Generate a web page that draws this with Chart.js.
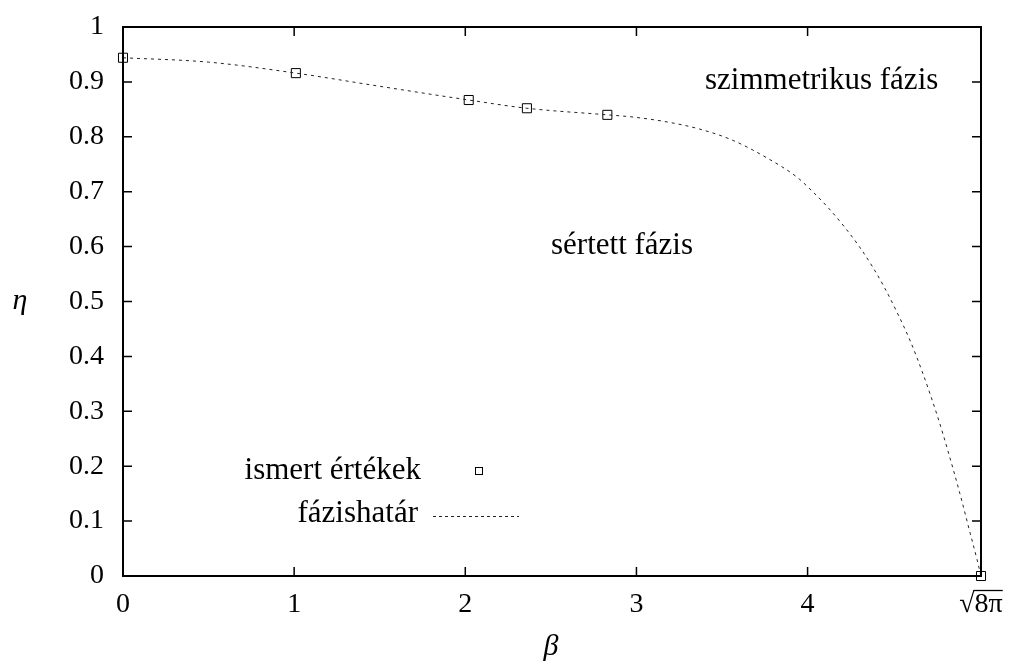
<!DOCTYPE html>
<html>
<head>
<meta charset="utf-8">
<script src="https://cdn.jsdelivr.net/npm/chart.js@4"></script>
<style>
  html, body { margin: 0; padding: 0; background: #fff; }
  #wrap { width: 1009px; height: 662px; position: relative; }
</style>
</head>
<body>
<div id="wrap"><canvas id="grafico"></canvas></div>
<script>
// ismert értékek (mért pontok)
const ismertBeta = [0, 1.01, 2.02, 2.36, 2.83, Math.sqrt(8 * Math.PI)];
const ismertEta = [0.944, 0.916, 0.867, 0.852, 0.840, 0];

// fázishatár görbe
const hatarBeta = [0, 0.5, 1.01, 1.5, 2.02, 2.36, 2.83, 2.98, 3.18, 3.37, 3.56, 3.76, 3.94,
  4.03, 4.12, 4.22, 4.30, 4.38, 4.45, 4.52, 4.60, 4.67, 4.76, 4.82, 4.89, 4.95, 4.99, Math.sqrt(8 * Math.PI)];
const hatarEta = [0.944, 0.936, 0.916, 0.892, 0.867, 0.852, 0.840, 0.836, 0.827, 0.814, 0.794, 0.762, 0.726,
  0.700, 0.671, 0.634, 0.601, 0.563, 0.525, 0.482, 0.428, 0.372, 0.290, 0.228, 0.150, 0.078, 0.030, 0];

// tengely feliratok
const xTicks = [0, 1, 2, 3, 4, Math.sqrt(8 * Math.PI)];
const xTickLabels = ["0", "1", "2", "3", "4", "√8π"];
const yTicks = [0, 0.1, 0.2, 0.3, 0.4, 0.5, 0.6, 0.7, 0.8, 0.9, 1];
const yTickLabels = ["0", "0.1", "0.2", "0.3", "0.4", "0.5", "0.6", "0.7", "0.8", "0.9", "1"];

const betu = "Liberation Serif";

// keret, belső tick-ek, feliratok
const keretPlugin = {
  id: "keret",
  afterDraw(chart) {
    const { ctx, chartArea: a, scales } = chart;
    ctx.save();
    ctx.strokeStyle = "#000";
    ctx.lineWidth = 1.5;
    ctx.beginPath();
    scales.y.ticks.forEach(t => {
      const py = scales.y.getPixelForValue(t.value);
      ctx.moveTo(a.left, py); ctx.lineTo(a.left + 9, py);
      ctx.moveTo(a.right, py); ctx.lineTo(a.right - 9, py);
    });
    scales.x.ticks.forEach(t => {
      const px = scales.x.getPixelForValue(t.value);
      ctx.moveTo(px, a.bottom); ctx.lineTo(px, a.bottom - 9);
      ctx.moveTo(px, a.top); ctx.lineTo(px, a.top + 9);
    });
    ctx.stroke();
    ctx.lineWidth = 2;
    ctx.strokeRect(a.left, a.top, a.right - a.left, a.bottom - a.top);

    // gyökjel felülvonása
    ctx.font = "28px '" + betu + "'";
    const utolso = xTickLabels[xTickLabels.length - 1];
    const w = ctx.measureText(utolso).width;
    const wg = ctx.measureText("√").width;
    const px = scales.x.getPixelForValue(xTicks[xTicks.length - 1]);
    ctx.lineWidth = 1.3;
    ctx.beginPath();
    ctx.moveTo(px - w / 2 + wg - 1, 590.5);
    ctx.lineTo(px + w / 2, 590.5);
    ctx.stroke();

    ctx.fillStyle = "#000";
    ctx.font = "31px '" + betu + "'";
    ctx.textBaseline = "alphabetic";
    ctx.textAlign = "left";
    ctx.fillText("szimmetrikus fázis", 705, 89);
    ctx.fillText("sértett fázis", 551, 254);
    ctx.textAlign = "right";
    ctx.fillText("ismert értékek", 421, 479);
    ctx.fillText("fázishatár", 418, 522);

    // jelmagyarázat minták
    ctx.lineWidth = 1;
    ctx.strokeRect(475.5, 467.5, 7, 7);
    ctx.setLineDash([3, 3]);
    ctx.strokeStyle = "#222";
    ctx.beginPath();
    ctx.moveTo(433, 516.5); ctx.lineTo(519, 516.5);
    ctx.stroke();
    ctx.setLineDash([]);

    // tengelycímek
    ctx.font = "italic 30px '" + betu + "'";
    ctx.textAlign = "center";
    ctx.fillText("η", 20, 309);
    ctx.fillText("β", 551, 655);
    ctx.restore();
  }
};

const config = {
  type: "scatter",
  data: {
    datasets: [
      {
        label: "fázishatár",
        data: hatarBeta.map((b, i) => ({ x: b, y: hatarEta[i] })),
        showLine: true,
        borderColor: "#222",
        borderWidth: 1,
        borderDash: [3, 4],
        pointRadius: 0,
        cubicInterpolationMode: "monotone",
        clip: false,
      },
      {
        label: "ismert értékek",
        data: ismertBeta.map((b, i) => ({ x: b, y: ismertEta[i] })),
        showLine: false,
        pointStyle: "rect",
        pointRadius: 6.4,
        pointBorderWidth: 1,
        pointBorderColor: "#000",
        pointBackgroundColor: "rgba(0,0,0,0)",
        clip: false,
      },
    ],
  },
  options: {
    responsive: true,
    maintainAspectRatio: false,
    animation: false,
    layout: { padding: { top: 27, right: 28, left: 0, bottom: 0 } },
    plugins: { legend: { display: false }, tooltip: { enabled: false } },
    scales: {
      x: {
        type: "linear",
        min: 0,
        max: Math.sqrt(8 * Math.PI),
        grid: { display: false, drawTicks: false },
        border: { display: false },
        afterBuildTicks: s => { s.ticks = xTicks.map(v => ({ value: v })); },
        afterFit: s => { s.height = 86; s.paddingLeft = 0; s.paddingRight = 0; },
        ticks: {
          padding: 12,
          color: "#000",
          font: { family: betu, size: 28 },
          maxRotation: 0,
          autoSkip: false,
          callback: v => {
            const i = xTicks.findIndex(t => Math.abs(t - v) < 1e-6);
            return i >= 0 ? xTickLabels[i] : "";
          },
        },
      },
      y: {
        min: 0,
        max: 1,
        grid: { display: false, drawTicks: false },
        border: { display: false },
        afterBuildTicks: s => { s.ticks = yTicks.map(v => ({ value: v })); },
        afterFit: s => { s.width = 123; s.paddingTop = 0; s.paddingBottom = 0; },
        ticks: {
          padding: 19,
          color: "#000",
          font: { family: betu, size: 28 },
          autoSkip: false,
          callback: v => {
            const i = yTicks.findIndex(t => Math.abs(t - v) < 1e-6);
            return i >= 0 ? yTickLabels[i] : "";
          },
        },
      },
    },
  },
  plugins: [keretPlugin],
};

const ctx = document.getElementById("grafico").getContext("2d");
new Chart(ctx, config);
</script>
</body>
</html>
